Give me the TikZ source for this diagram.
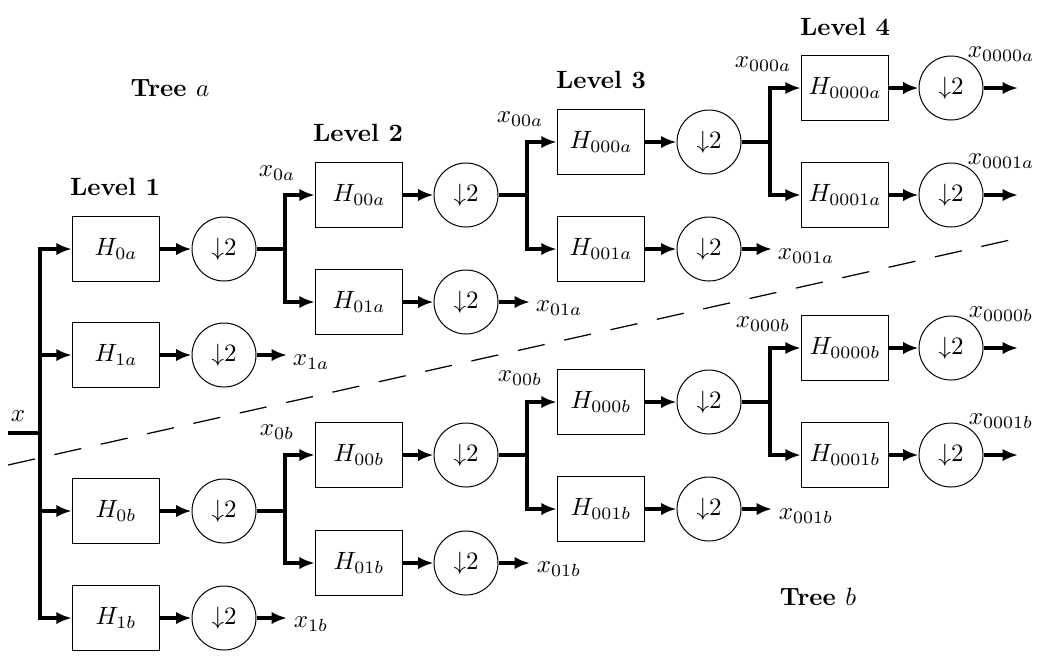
\documentclass[tikz,border=0pt]{standalone}
\usetikzlibrary{arrows.meta, positioning}

\begin{document}
\begin{tikzpicture}[
  x=0.4pt, y=-0.4pt,
  filt/.style={rectangle, draw, minimum width=35pt, minimum height=26pt, inner sep=0pt},
  down/.style={circle, draw, minimum size=25.6pt, inner sep=0pt},
  wire/.style={line width=1.4pt},
  arrow/.style={line width=1.4pt, -{Latex[length=6.2pt, width=5pt]}},
  level/.style={font=\bfseries},
  cut/.style={line width=0.5pt, dash pattern=on 11pt off 8pt}
]
  \useasboundingbox (0,0) rectangle (1050,661);

  % Titles
  \node[level] (treea) at (170,88) {Tree $a$};
  \node[level] (treeb) at (818,597) {Tree $b$};
  \node[level] (lev1) at (115,187) {Level 1};
  \node[level] (lev2) at (358,133) {Level 2};
  \node[level] (lev3) at (601,80) {Level 3};
  \node[level] (lev4) at (845,27) {Level 4};

  % Input
  \coordinate (xin) at (8,433);
  \coordinate (s1) at (40,433);
  \node (lx) at (18,416) {$x$};

  % Level 1
  \node[filt] (h0a) at (116,249) {$H_{0a}$};
  \node[filt] (h1a) at (116,355) {$H_{1a}$};
  \node[filt] (h0b) at (116,511) {$H_{0b}$};
  \node[filt] (h1b) at (116,618) {$H_{1b}$};
  \node[down] (d0a) at (224,249) {${\downarrow}2$};
  \node[down] (d1a) at (224,355) {${\downarrow}2$};
  \node[down] (d0b) at (224,511) {${\downarrow}2$};
  \node[down] (d1b) at (224,618) {${\downarrow}2$};

  % Level 2
  \node[filt] (h00a) at (359,195) {$H_{00a}$};
  \node[filt] (h01a) at (359,302) {$H_{01a}$};
  \node[filt] (h00b) at (359,455) {$H_{00b}$};
  \node[filt] (h01b) at (359,563) {$H_{01b}$};
  \node[down] (d00a) at (466,195) {${\downarrow}2$};
  \node[down] (d01a) at (466,302) {${\downarrow}2$};
  \node[down] (d00b) at (466,455) {${\downarrow}2$};
  \node[down] (d01b) at (466,563) {${\downarrow}2$};

  % Level 3
  \node[filt] (h000a) at (601,142) {$H_{000a}$};
  \node[filt] (h001a) at (601,249) {$H_{001a}$};
  \node[filt] (h000b) at (601,402) {$H_{000b}$};
  \node[filt] (h001b) at (601,509) {$H_{001b}$};
  \node[down] (d000a) at (709,142) {${\downarrow}2$};
  \node[down] (d001a) at (709,249) {${\downarrow}2$};
  \node[down] (d000b) at (709,402) {${\downarrow}2$};
  \node[down] (d001b) at (709,509) {${\downarrow}2$};

  % Level 4
  \node[filt] (h0000a) at (845,88) {$H_{0000a}$};
  \node[filt] (h0001a) at (845,195) {$H_{0001a}$};
  \node[filt] (h0000b) at (845,348) {$H_{0000b}$};
  \node[filt] (h0001b) at (845,455) {$H_{0001b}$};
  \node[down] (d0000a) at (951,88) {${\downarrow}2$};
  \node[down] (d0001a) at (951,195) {${\downarrow}2$};
  \node[down] (d0000b) at (951,348) {${\downarrow}2$};
  \node[down] (d0001b) at (951,455) {${\downarrow}2$};

  % Split points and outputs
  \coordinate (s2a) at (285,249);
  \coordinate (s2b) at (285,511);
  \coordinate (s3a) at (527,195);
  \coordinate (s3b) at (527,455);
  \coordinate (s4a) at (770,142);
  \coordinate (s4b) at (770,402);
  \coordinate (o1a) at (287,355);
  \coordinate (o1b) at (287,618);
  \coordinate (o01a) at (530,302);
  \coordinate (o01b) at (530,563);
  \coordinate (o001a) at (772,249);
  \coordinate (o001b) at (772,509);
  \coordinate (o0000a) at (1018,88);
  \coordinate (o0001a) at (1018,195);
  \coordinate (o0000b) at (1018,348);
  \coordinate (o0001b) at (1018,455);

  % Signal labels
  \node (l0a) at (277,173) {$x_{0a}$};
  \node (l0b) at (277,432) {$x_{0b}$};
  \node (l00a) at (520,119) {$x_{00a}$};
  \node (l00b) at (520,378) {$x_{00b}$};
  \node (l000a) at (763,64) {$x_{000a}$};
  \node (l000b) at (763,324) {$x_{000b}$};
  \node (l1a) at (311,362) {$x_{1a}$};
  \node (l1b) at (311,624) {$x_{1b}$};
  \node (l01a) at (559,308) {$x_{01a}$};
  \node (l01b) at (559,569) {$x_{01b}$};
  \node (l001a) at (806,256) {$x_{001a}$};
  \node (l001b) at (806,516) {$x_{001b}$};
  \node (l0000a) at (1001,54) {$x_{0000a}$};
  \node (l0001a) at (1001,161) {$x_{0001a}$};
  \node (l0000b) at (1001,314) {$x_{0000b}$};
  \node (l0001b) at (1001,421) {$x_{0001b}$};

  % Connections, level 1
  \draw[wire] (xin) -- (s1);
  \draw[arrow] (s1) |- (h0a);
  \draw[arrow] (s1) |- (h1a);
  \draw[arrow] (s1) |- (h0b);
  \draw[arrow] (s1) |- (h1b);
  \draw[arrow] (h0a) -- (d0a);
  \draw[arrow] (h1a) -- (d1a);
  \draw[arrow] (h0b) -- (d0b);
  \draw[arrow] (h1b) -- (d1b);
  \draw[arrow] (d1a) -- (o1a);
  \draw[arrow] (d1b) -- (o1b);

  % Connections, level 2
  \draw[wire] (d0a) -- (s2a);
  \draw[wire] (d0b) -- (s2b);
  \draw[arrow] (s2a) |- (h00a);
  \draw[arrow] (s2a) |- (h01a);
  \draw[arrow] (s2b) |- (h00b);
  \draw[arrow] (s2b) |- (h01b);
  \draw[arrow] (h00a) -- (d00a);
  \draw[arrow] (h01a) -- (d01a);
  \draw[arrow] (h00b) -- (d00b);
  \draw[arrow] (h01b) -- (d01b);
  \draw[arrow] (d01a) -- (o01a);
  \draw[arrow] (d01b) -- (o01b);

  % Connections, level 3
  \draw[wire] (d00a) -- (s3a);
  \draw[wire] (d00b) -- (s3b);
  \draw[arrow] (s3a) |- (h000a);
  \draw[arrow] (s3a) |- (h001a);
  \draw[arrow] (s3b) |- (h000b);
  \draw[arrow] (s3b) |- (h001b);
  \draw[arrow] (h000a) -- (d000a);
  \draw[arrow] (h001a) -- (d001a);
  \draw[arrow] (h000b) -- (d000b);
  \draw[arrow] (h001b) -- (d001b);
  \draw[arrow] (d001a) -- (o001a);
  \draw[arrow] (d001b) -- (o001b);

  % Connections, level 4
  \draw[wire] (d000a) -- (s4a);
  \draw[wire] (d000b) -- (s4b);
  \draw[arrow] (s4a) |- (h0000a);
  \draw[arrow] (s4a) |- (h0001a);
  \draw[arrow] (s4b) |- (h0000b);
  \draw[arrow] (s4b) |- (h0001b);
  \draw[arrow] (h0000a) -- (d0000a);
  \draw[arrow] (h0001a) -- (d0001a);
  \draw[arrow] (h0000b) -- (d0000b);
  \draw[arrow] (h0001b) -- (d0001b);
  \draw[arrow] (d0000a) -- (o0000a);
  \draw[arrow] (d0001a) -- (o0001a);
  \draw[arrow] (d0000b) -- (o0000b);
  \draw[arrow] (d0001b) -- (o0001b);

  % Separation of the two trees
  \draw[cut] (8,465) -- (1010,240);
\end{tikzpicture}
\end{document}
